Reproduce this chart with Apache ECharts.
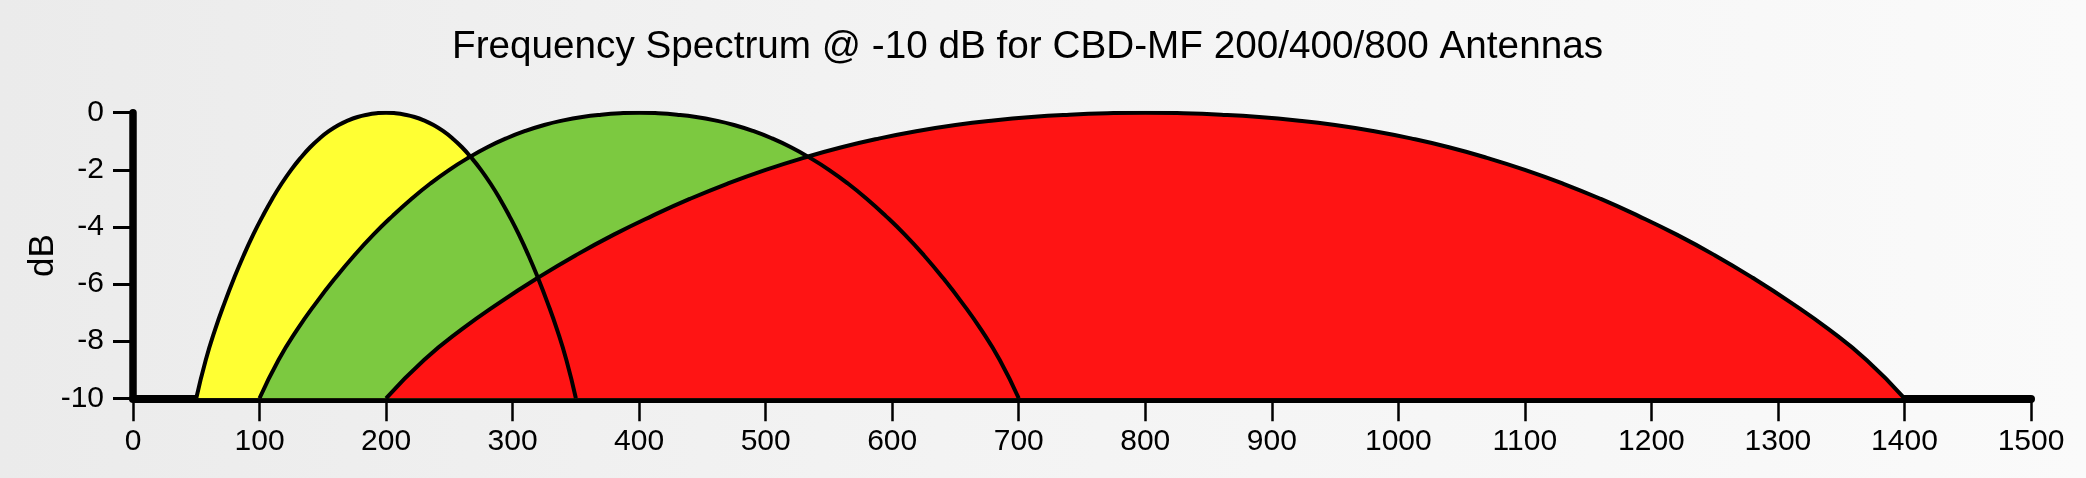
<!DOCTYPE html>
<html>
<head>
<meta charset="utf-8">
<script src="https://cdn.jsdelivr.net/npm/echarts@6/dist/echarts.min.js"></script>
<style>
html,body{margin:0;padding:0;}
#chart{width:2086px;height:478px;background:linear-gradient(90deg,#ebebeb 0%,#f3f3f3 45%,#fafafa 100%);}
</style>
</head>
<body>
<div id="chart"></div>
<script>
// Title and axes
const titleText = 'Frequency Spectrum @ -10 dB for CBD-MF 200/400/800 Antennas';
const yAxisName = 'dB';
const xTicks = {min: 0, max: 1500, interval: 100};
const yTicks = {min: -10, max: 0, interval: 2};

// Series names
const seriesNames = ['CBD-MF 200', 'CBD-MF 400', 'CBD-MF 800'];

// Frequency (x) / dB (y) points
const mf200 = [
  [50, -10], [57.5, -8.66], [65, -7.58], [72.5, -6.64], [80, -5.78], [87.5, -4.99], [95, -4.27],
  [102.5, -3.62], [110, -3.02], [117.5, -2.48], [125, -2.0], [132.5, -1.58], [140, -1.21],
  [147.5, -0.9], [155, -0.64], [162.5, -0.43], [170, -0.27], [177.5, -0.15], [185, -0.07],
  [192.5, -0.02], [200, 0],
  [207.5, -0.02], [215, -0.07], [222.5, -0.15], [230, -0.27], [237.5, -0.43], [245, -0.64],
  [252.5, -0.9], [260, -1.21], [267.5, -1.58], [275, -2.0], [282.5, -2.48], [290, -3.02],
  [297.5, -3.62], [305, -4.27], [312.5, -4.99], [320, -5.78], [327.5, -6.64], [335, -7.58],
  [342.5, -8.66], [350, -10]
];
const mf400 = [
  [100, -10], [115, -8.66], [130, -7.58], [145, -6.64], [160, -5.78], [175, -4.99], [190, -4.27],
  [205, -3.62], [220, -3.02], [235, -2.48], [250, -2.0], [265, -1.58], [280, -1.21],
  [295, -0.9], [310, -0.64], [325, -0.43], [340, -0.27], [355, -0.15], [370, -0.07],
  [385, -0.02], [400, 0],
  [415, -0.02], [430, -0.07], [445, -0.15], [460, -0.27], [475, -0.43], [490, -0.64],
  [505, -0.9], [520, -1.21], [535, -1.58], [550, -2.0], [565, -2.48], [580, -3.02],
  [595, -3.62], [610, -4.27], [625, -4.99], [640, -5.78], [655, -6.64], [670, -7.58],
  [685, -8.66], [700, -10]
];
const mf800 = [
  [200, -10], [230, -8.66], [260, -7.58], [290, -6.64], [320, -5.78], [350, -4.99], [380, -4.27],
  [410, -3.62], [440, -3.02], [470, -2.48], [500, -2.0], [530, -1.58], [560, -1.21],
  [590, -0.9], [620, -0.64], [650, -0.43], [680, -0.27], [710, -0.15], [740, -0.07],
  [770, -0.02], [800, 0],
  [830, -0.02], [860, -0.07], [890, -0.15], [920, -0.27], [950, -0.43], [980, -0.64],
  [1010, -0.9], [1040, -1.21], [1070, -1.58], [1100, -2.0], [1130, -2.48], [1160, -3.02],
  [1190, -3.62], [1220, -4.27], [1250, -4.99], [1280, -5.78], [1310, -6.64], [1340, -7.58],
  [1370, -8.66], [1400, -10]
];

const fills = ['#ffff33', '#7cc940', '#ff1414'];
const datasets = [mf200, mf400, mf800];

const chart = echarts.init(document.getElementById('chart'), null, {renderer: 'canvas'});
const FONT = 'Liberation Sans';

const series = [];
datasets.forEach((d, i) => {
  series.push({
    name: seriesNames[i], type: 'line', data: d, smooth: 0.5, showSymbol: false,
    lineStyle: {width: 0, opacity: 0},
    areaStyle: {color: fills[i], opacity: 1, origin: 'start'},
    z: 2 + i, silent: true
  });
});
datasets.forEach((d, i) => {
  series.push({
    name: seriesNames[i] + ' outline', type: 'line', data: d, smooth: 0.5, showSymbol: false,
    lineStyle: {width: 4, color: '#000', join: 'round'},
    z: 10, silent: true
  });
});

chart.setOption({
  animation: false,
  backgroundColor: 'transparent',
  title: {
    text: titleText, left: 447, top: 23,
    textStyle: {fontFamily: FONT, fontSize: 38.7, fontWeight: 'normal', color: '#000'}
  },
  grid: {left: 133, right: 55, top: 112.7, bottom: 79.7, containLabel: false},
  xAxis: {
    type: 'value', min: xTicks.min, max: xTicks.max, interval: xTicks.interval,
    axisLine: {show: true, onZero: false, lineStyle: {color: '#000', width: 8}},
    axisTick: {show: true, length: 23, lineStyle: {color: '#000', width: 2.5}},
    axisLabel: {margin: 28, color: '#000', fontFamily: FONT, fontSize: 30,
      formatter: v => String(v)},
    splitLine: {show: false}
  },
  yAxis: {
    type: 'value', min: yTicks.min, max: yTicks.max, interval: yTicks.interval,
    name: yAxisName, nameLocation: 'middle', nameGap: 72, nameRotate: 90,
    nameMoveOverlap: false,
    nameTextStyle: {fontFamily: FONT, fontSize: 35, color: '#000'},
    axisLine: {show: true, onZero: false, lineStyle: {color: '#000', width: 7.5}},
    axisTick: {show: true, length: 20, lineStyle: {color: '#000', width: 3}},
    axisLabel: {margin: 29, color: '#000', fontFamily: FONT, fontSize: 30,
      formatter: v => String(v)},
    splitLine: {show: false}
  },
  series: series
});
</script>
</body>
</html>
